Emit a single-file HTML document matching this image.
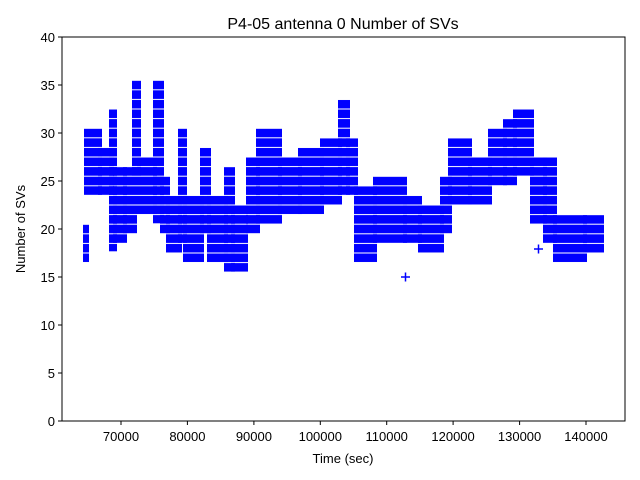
<!DOCTYPE html>
<html><head><meta charset="utf-8"><style>
html,body{margin:0;padding:0;background:#fff;}
svg{display:block;font-family:"Liberation Sans","DejaVu Sans",sans-serif;}
</style></head><body>
<svg width="640" height="480" viewBox="0 0 640 480" xmlns="http://www.w3.org/2000/svg">
<defs>
<pattern id="p" patternUnits="userSpaceOnUse" x="0" y="416.2" width="4" height="9.6">
<rect x="0" y="0.5" width="4" height="8.6" fill="#0000ff"/>
</pattern>
</defs>
<rect width="640" height="480" fill="#fff"/>
<g fill="url(#p)">
<rect x="83" y="224.7" width="6" height="37.4"/>
<rect x="84" y="128.7" width="18" height="66.2"/>
<rect x="98" y="147.9" width="16" height="47"/>
<rect x="109" y="109.5" width="8" height="141.8"/>
<rect x="113" y="167.1" width="14" height="75.8"/>
<rect x="123" y="167.1" width="14" height="66.2"/>
<rect x="132" y="80.7" width="9" height="95"/>
<rect x="137" y="157.5" width="20" height="56.6"/>
<rect x="153" y="80.7" width="11" height="104.6"/>
<rect x="153" y="176.7" width="11" height="46.6"/>
<rect x="160" y="176.7" width="10" height="56.6"/>
<rect x="166" y="195.9" width="16" height="56.6"/>
<rect x="178" y="128.7" width="9" height="114.2"/>
<rect x="183" y="195.9" width="21" height="66.2"/>
<rect x="200" y="147.9" width="11" height="85.4"/>
<rect x="207" y="195.9" width="21" height="66.2"/>
<rect x="224" y="167.1" width="11" height="104.6"/>
<rect x="231" y="205.5" width="17" height="66.2"/>
<rect x="246" y="157.5" width="14" height="75.8"/>
<rect x="256" y="128.7" width="26" height="95"/>
<rect x="278" y="157.5" width="24" height="56.6"/>
<rect x="298" y="147.9" width="26" height="66.2"/>
<rect x="320" y="138.3" width="22" height="66.2"/>
<rect x="338" y="99.9" width="12" height="95"/>
<rect x="346" y="138.3" width="12" height="56.6"/>
<rect x="354" y="186.3" width="23" height="75.8"/>
<rect x="373" y="176.7" width="34" height="66.2"/>
<rect x="403" y="195.9" width="19" height="47"/>
<rect x="418" y="205.5" width="26" height="47"/>
<rect x="440" y="176.7" width="12" height="56.6"/>
<rect x="448" y="138.3" width="24" height="66.2"/>
<rect x="468" y="157.5" width="24" height="47"/>
<rect x="488" y="128.7" width="19" height="56.6"/>
<rect x="503" y="119.1" width="14" height="66.2"/>
<rect x="513" y="109.5" width="21" height="66.2"/>
<rect x="530" y="157.5" width="17" height="66.2"/>
<rect x="543" y="157.5" width="14" height="85.4"/>
<rect x="553" y="215.1" width="34" height="47"/>
<rect x="583" y="215.1" width="21" height="37.4"/>
</g>
<g stroke="#0000ff" stroke-width="1.5">
<path d="M401 277h9M405.5 272.5v9M534 249h9M538.5 244.5v9"/>
</g>
<rect x="62" y="37" width="563" height="384" fill="none" stroke="#000" stroke-width="1"/>
<g stroke="#000" stroke-width="1">
<path d="M62 421h-4M62 373h-4M62 325h-4M62 277h-4M62 229h-4M62 181h-4M62 133h-4M62 85h-4M62 37h-4"/>
<path d="M121 421v4M187.4 421v4M253.9 421v4M320.3 421v4M386.7 421v4M453.1 421v4M519.6 421v4M586 421v4"/>
</g>
<g font-size="13" fill="#000" text-anchor="end">
<text x="55" y="426">0</text><text x="55" y="378">5</text><text x="55" y="330">10</text>
<text x="55" y="282">15</text><text x="55" y="234">20</text><text x="55" y="186">25</text>
<text x="55" y="138">30</text><text x="55" y="90">35</text><text x="55" y="42">40</text>
</g>
<g font-size="13" fill="#000" text-anchor="middle">
<text x="121" y="441">70000</text><text x="187.4" y="441">80000</text><text x="253.9" y="441">90000</text>
<text x="320.3" y="441">100000</text><text x="386.7" y="441">110000</text><text x="453.1" y="441">120000</text>
<text x="519.6" y="441">130000</text><text x="586" y="441">140000</text>
<text x="343" y="463">Time (sec)</text>
<text x="343" y="29" font-size="16">P4-05 antenna 0 Number of SVs</text>
<text transform="translate(25 229) rotate(-90)">Number of SVs</text>
</g>
</svg>
</body></html>
